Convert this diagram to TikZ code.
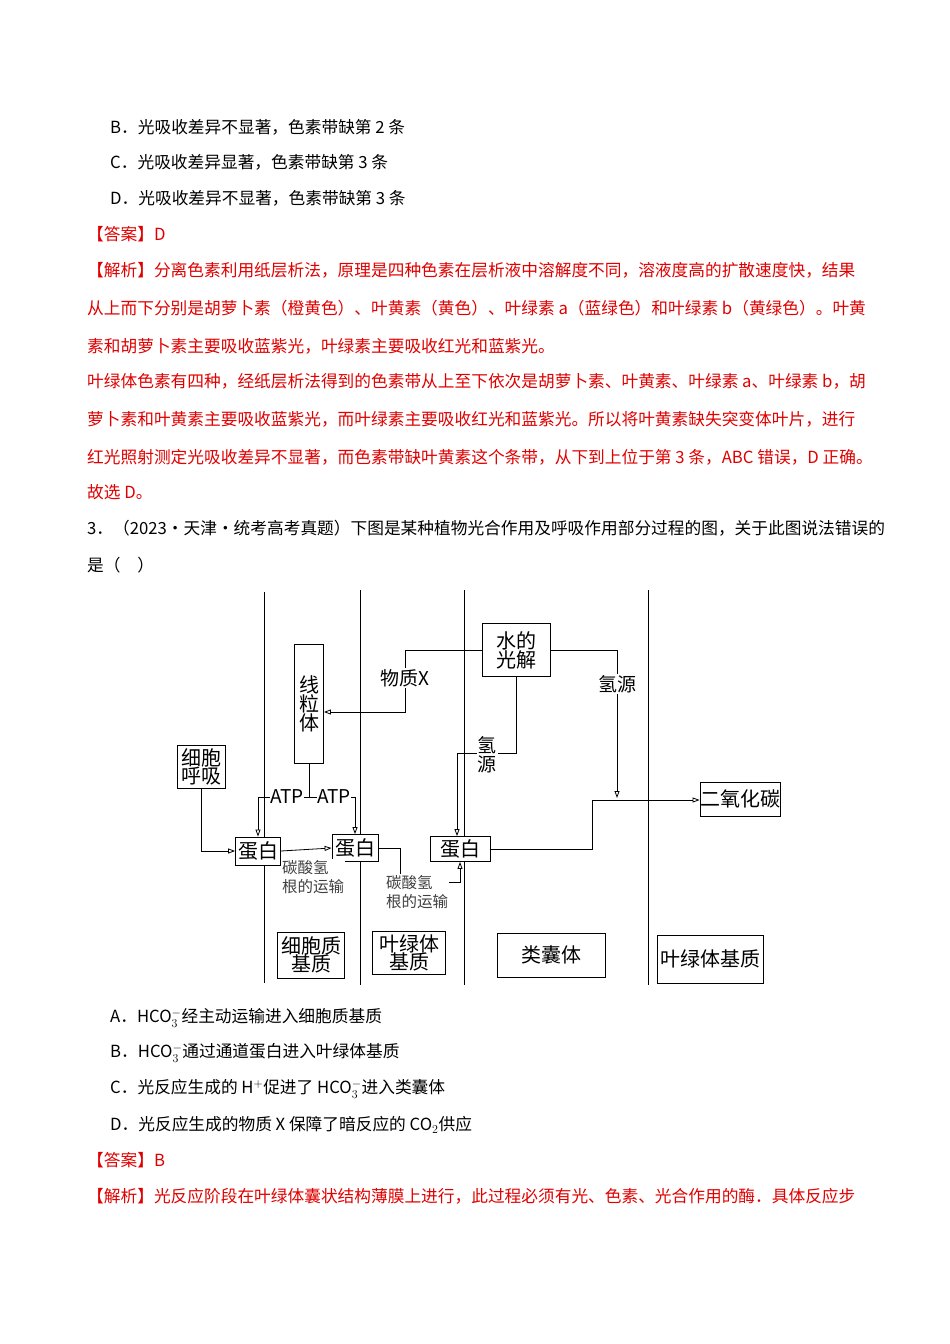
\documentclass[tikz,border=0pt]{standalone}
\usepackage{fontspec}
\setmainfont{Noto Sans CJK SC}
\usetikzlibrary{arrows.meta,positioning}
\definecolor{ansred}{HTML}{E00000}

\tikzset{
  txt/.style={anchor=west, font=\fontsize{16.7}{19}\selectfont, inner sep=0pt},
  redtxt/.style={txt, text=ansred},
  box/.style={draw, thick, fill=white, align=center, inner sep=2pt, font=\fontsize{20}{22}\selectfont},
  lbl/.style={fill=white, inner sep=1pt, align=center, font=\fontsize{19}{21}\selectfont},
  small/.style={align=left, fill=white, font=\fontsize{15.5}{19}\selectfont, text=black!75, inner sep=1pt},
  arr/.style={thick, -{Triangle[open, length=7pt, width=5pt]}},
  wall/.style={thick}
}

\begin{document}
\begin{tikzpicture}[x=1pt, y=-1pt]
  \useasboundingbox[fill=white] (0,0) rectangle (950,1344);

  % ── question text ──
  \node[txt] (optB) at (110,127) {B．光吸收差异不显著，色素带缺第 2 条};
  \node[txt] (optC) at (110,162) {C．光吸收差异显著，色素带缺第 3 条};
  \node[txt] (optD) at (110,198) {D．光吸收差异不显著，色素带缺第 3 条};
  \node[redtxt] (ans1) at (87,234) {【答案】D};
  \node[redtxt] (ex1) at (87,270) {【解析】分离色素利用纸层析法，原理是四种色素在层析液中溶解度不同，溶液度高的扩散速度快，结果};
  \node[redtxt] (ex2) at (87,308) {从上而下分别是胡萝卜素（橙黄色）、叶黄素（黄色）、叶绿素 a（蓝绿色）和叶绿素 b（黄绿色）。叶黄};
  \node[redtxt] (ex3) at (87,346) {素和胡萝卜素主要吸收蓝紫光，叶绿素主要吸收红光和蓝紫光。};
  \node[redtxt] (ex4) at (87,381) {叶绿体色素有四种，经纸层析法得到的色素带从上至下依次是胡萝卜素、叶黄素、叶绿素 a、叶绿素 b，胡};
  \node[redtxt] (ex5) at (87,419) {萝卜素和叶黄素主要吸收蓝紫光，而叶绿素主要吸收红光和蓝紫光。所以将叶黄素缺失突变体叶片，进行};
  \node[redtxt] (ex6) at (87,457) {红光照射测定光吸收差异不显著，而色素带缺叶黄素这个条带，从下到上位于第 3 条，ABC 错误，D 正确。};
  \node[redtxt] (ex7) at (87,492) {故选 D。};
  \node[txt] (q3a) at (87,528) {3．（2023·天津·统考高考真题）下图是某种植物光合作用及呼吸作用部分过程的图，关于此图说法错误的};
  \node[txt] (q3b) at (87,565) {是（\quad ）};

  % ── membranes ──
  \draw[wall] (264,592) -- (264,983);
  \draw[wall] (360,590) -- (360,985);
  \draw[wall] (464,590) -- (464,985);
  \draw[wall] (648,590) -- (648,985);

  % ── boxes ──
  \node[box, minimum width=68pt, minimum height=53pt] (water) at (516,650) {水的\\[-3pt]光解};
  \node[box, minimum width=29pt, minimum height=119pt, inner sep=1pt] (mito) at (309,704) {线\\[-3pt]粒\\[-3pt]体};
  \node[box, minimum width=48pt, minimum height=43pt] (resp) at (201,767) {细胞\\[-4pt]呼吸};
  \node[box, minimum width=45pt, minimum height=28pt] (prot1) at (258,851) {蛋白};
  \node[box, minimum width=46pt, minimum height=27pt] (prot2) at (355,848) {蛋白};
  \node[box, minimum width=60pt, minimum height=25pt] (prot3) at (460,849) {蛋白};
  \node[box, minimum width=80pt, minimum height=34pt, inner sep=0pt] (co2) at (740,799) {二氧化碳};
  \node[box, minimum width=67pt, minimum height=46pt, inner sep=1pt] (cyto) at (311,955) {细胞质\\[-4pt]基质};
  \node[box, minimum width=73pt, minimum height=43pt, inner sep=1pt] (strA) at (409,953) {叶绿体\\[-4pt]基质};
  \node[box, minimum width=108pt, minimum height=44pt] (thyl) at (551,955) {类囊体};
  \node[box, minimum width=106pt, minimum height=48pt, inner sep=1pt] (strB) at (710,959) {叶绿体基质};

  % ── connectors ──
  \coordinate (xbend) at (405,712);
  \draw[arr] (water.west) -| (xbend) -- (mito.east |- xbend);
  \node[lbl] (matx) at (405,678) {物质X};

  \coordinate (hbend) at (617,798);
  \draw[arr] (water.east) -| (hbend);
  \node[lbl] (hsrcA) at (617,684) {氢源};

  \coordinate (hdown) at (457,753);
  \draw[arr] (water.south) |- (hdown) -- (hdown |- prot3.north);
  \node[lbl] (hsrcB) at (487,755) {氢\\[-2pt]源};

  \coordinate (cbend) at (592,800);
  \draw[arr] (prot3.east) -| (cbend) -- (co2.west |- cbend);

  \coordinate (atp) at (309,797);
  \draw[thick] (mito.south) -- (atp);
  \draw[arr] (atp) -| (prot1.north);
  \draw[arr] (atp) -| (prot2.north);
  \node[lbl, inner sep=0pt] (atpA) at (287,797) {ATP};
  \node[lbl, inner sep=0pt] (atpB) at (334,797) {ATP};

  \draw[arr] (resp.south) |- (prot1.west);
  \draw[arr] (prot1.east) -- (prot2.west);
  \node[small] (bicA) at (313,877) {碳酸氢\\根的运输};

  \coordinate (tbend) at (400,882);
  \draw[arr] (prot2.east) -| (tbend) -| (prot3.south);
  \node[small] (bicB) at (417,892) {碳酸氢\\根的运输};

  % ── options ──
  \node[txt] (oA) at (110,1018) {A．HCO$_3^-$经主动运输进入细胞质基质};
  \node[txt] (oB) at (110,1053) {B．HCO$_3^-$通过通道蛋白进入叶绿体基质};
  \node[txt] (oC) at (110,1089) {C．光反应生成的 H$^+$促进了 HCO$_3^-$进入类囊体};
  \node[txt] (oD) at (110,1125) {D．光反应生成的物质 X 保障了暗反应的 CO$_2$供应};
  \node[redtxt] (ans2) at (87,1160) {【答案】B};
  \node[redtxt] (ex8) at (87,1196) {【解析】光反应阶段在叶绿体囊状结构薄膜上进行，此过程必须有光、色素、光合作用的酶．具体反应步};
\end{tikzpicture}
\end{document}
